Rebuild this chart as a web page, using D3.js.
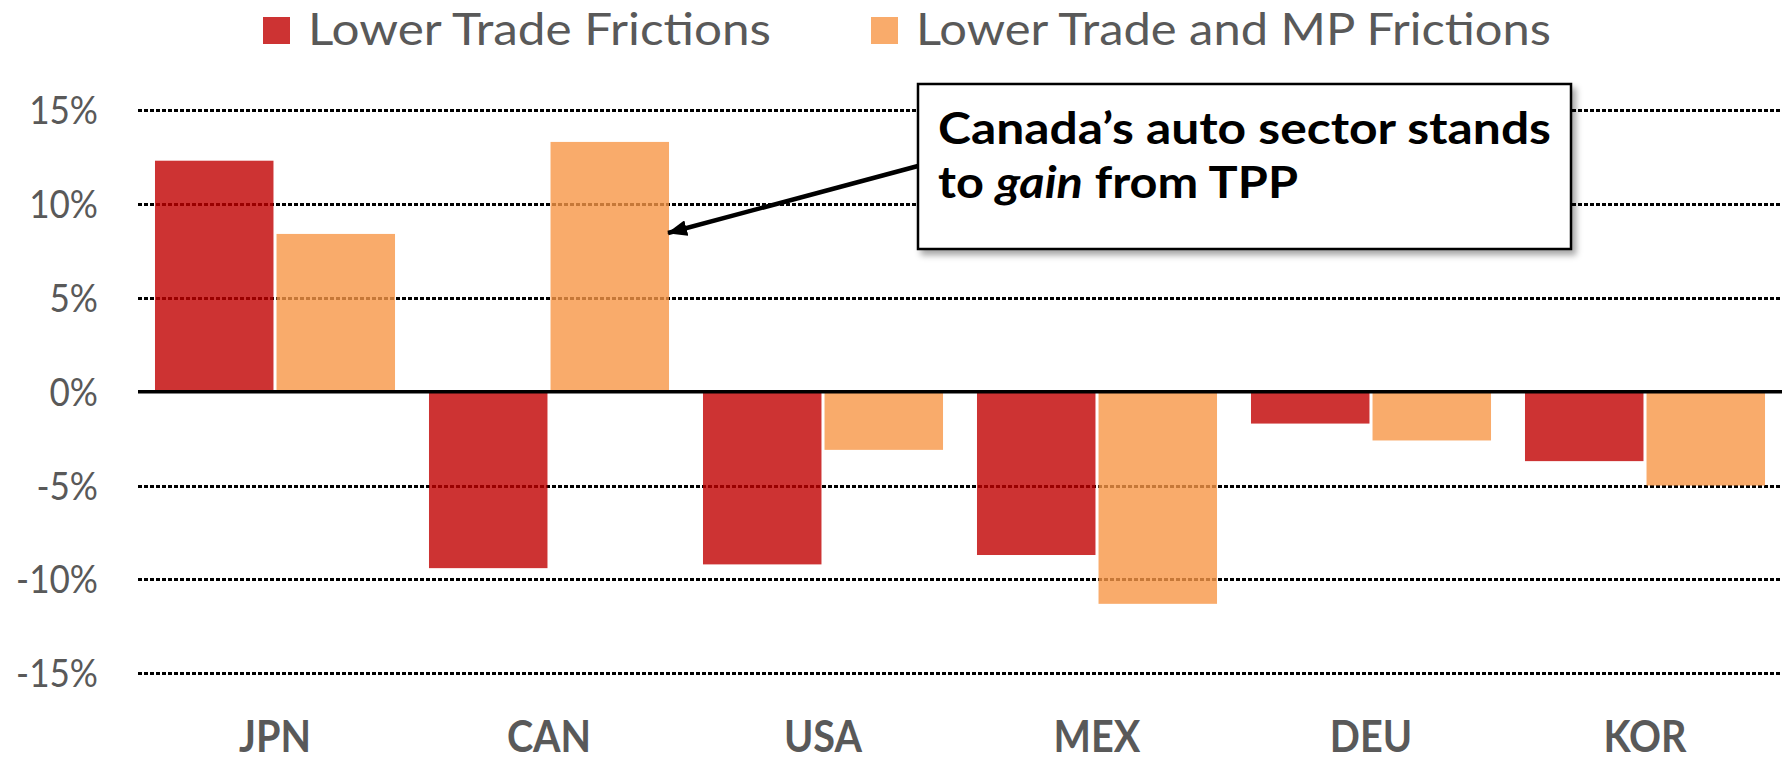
<!DOCTYPE html>
<html>
<head>
<meta charset="utf-8">
<script src="https://cdn.jsdelivr.net/npm/d3@7"></script>
<style>
  body { margin: 0; background: #fff; }
  svg { display: block; font-family: Lato, "Open Sans", sans-serif; }
</style>
</head>
<body>
<div id="chart"></div>
<script>
// data (percent change)
var countries = ["JPN", "CAN", "USA", "MEX", "DEU", "KOR"];
var seriesNames = ["Lower Trade Frictions", "Lower Trade and MP Frictions"];
var tradeOnly = [12.3, -9.4, -9.2, -8.7, -1.7, -3.7];
var tradeAndMP = [8.4, 13.3, -3.1, -11.3, -2.6, -5.0];
var yTicks = [-15, -10, -5, 0, 5, 10, 15];
var noteLine1 = "Canada\u2019s auto sector stands";
var noteLine2 = ["to ", "gain", " from TPP"];

var width = 1785, height = 761;
var colors = ["#C00000", "#F79646"];
var gray = "#595959";

var svg = d3.select("#chart").append("svg")
  .attr("width", width)
  .attr("height", height);

var defs = svg.append("defs");
defs.append("filter").attr("id", "shadow")
  .attr("x", "-10%").attr("y", "-10%").attr("width", "130%").attr("height", "140%")
  .append("feDropShadow")
  .attr("dx", 4).attr("dy", 5).attr("stdDeviation", 3)
  .attr("flood-color", "#000").attr("flood-opacity", 0.35);
defs.append("marker").attr("id", "head")
  .attr("markerUnits", "userSpaceOnUse")
  .attr("viewBox", "0 0 20 16")
  .attr("refX", 19).attr("refY", 8)
  .attr("markerWidth", 20).attr("markerHeight", 16)
  .attr("orient", "auto")
  .append("path").attr("d", "M0,0 L20,8 L0,16 Z").attr("fill", "#000");

// squeeze a text to a given width, Calibri is narrower than what we have
function fitTo(sel, w) {
  sel.attr("textLength", w).attr("lengthAdjust", "spacingAndGlyphs");
}
function narrow(sel, k) {
  sel.each(function() {
    var w = this.getComputedTextLength();
    d3.select(this).attr("textLength", w * k).attr("lengthAdjust", "spacingAndGlyphs");
  });
}

var x = d3.scaleBand()
  .domain(countries)
  .range([138, 1782])
  .paddingInner(0.124)
  .paddingOuter(0.062);

var xs = d3.scaleBand()
  .domain([0, 1])
  .range([0, x.bandwidth()])
  .paddingInner(0.025);

var y = d3.scaleLinear()
  .domain([-15, 15])
  .range([673.3, 110]);

// dotted grid lines
svg.append("g").selectAll("line")
  .data(yTicks.filter(function(d) { return d !== 0; }))
  .enter().append("line")
  .attr("x1", 138).attr("x2", 1782)
  .attr("y1", function(d) { return Math.round(y(d)) + 0.5; })
  .attr("y2", function(d) { return Math.round(y(d)) + 0.5; })
  .attr("stroke", "#000")
  .attr("stroke-width", 3.5)
  .attr("stroke-dasharray", "3.5,2.5")
  .attr("shape-rendering", "crispEdges");

// bars
var rows = countries.map(function(c, i) {
  return { country: c, values: [tradeOnly[i], tradeAndMP[i]] };
});
var groups = svg.append("g").selectAll("g")
  .data(rows)
  .enter().append("g")
  .attr("transform", function(d) { return "translate(" + x(d.country) + ",0)"; });

groups.selectAll("rect")
  .data(function(d) { return d.values.map(function(v, k) { return { k: k, v: v }; }); })
  .enter().append("rect")
  .attr("x", function(d) { return xs(d.k); })
  .attr("width", xs.bandwidth())
  .attr("y", function(d) { return y(Math.max(0, d.v)); })
  .attr("height", function(d) { return Math.abs(y(d.v) - y(0)); })
  .attr("fill", function(d) { return colors[d.k]; })
  .attr("fill-opacity", 0.8);

// zero line
svg.append("line")
  .attr("x1", 138).attr("x2", 1782)
  .attr("y1", y(0)).attr("y2", y(0))
  .attr("stroke", "#000").attr("stroke-width", 3.5);

// y labels
var yl = svg.append("g").selectAll("text")
  .data(yTicks)
  .enter().append("text")
  .attr("x", 98)
  .attr("y", function(d) { return y(d) + 14; })
  .attr("text-anchor", "end")
  .attr("fill", gray)
  .attr("font-size", 39)
  .text(function(d) { return d + "%"; });
narrow(yl, 0.9);

// x labels
var xl = svg.append("g").selectAll("text")
  .data(countries)
  .enter().append("text")
  .attr("x", function(d) { return x(d) + x.bandwidth() / 2; })
  .attr("y", 752)
  .attr("text-anchor", "middle")
  .attr("fill", gray)
  .attr("font-size", 44)
  .attr("font-weight", "bold")
  .text(function(d) { return d; });
narrow(xl, 0.9);

// legend
var legendX = [263, 871];
var legendW = [463, 635];
var lg = svg.append("g").selectAll("g")
  .data(seriesNames)
  .enter().append("g");
lg.append("rect")
  .attr("x", function(d, i) { return legendX[i]; })
  .attr("y", 17).attr("width", 27).attr("height", 27)
  .attr("fill", function(d, i) { return colors[i]; })
  .attr("fill-opacity", 0.8);
lg.append("text")
  .attr("x", function(d, i) { return legendX[i] + 45; })
  .attr("y", 45)
  .attr("fill", gray)
  .attr("font-size", 45)
  .text(function(d) { return d; })
  .each(function(d, i) { fitTo(d3.select(this), legendW[i]); });

// annotation
var note = svg.append("g");
note.append("line")
  .attr("x1", 918).attr("y1", 166)
  .attr("x2", 668).attr("y2", 233)
  .attr("stroke", "#000").attr("stroke-width", 4.5)
  .attr("marker-end", "url(#head)");
note.append("rect")
  .attr("x", 918).attr("y", 84)
  .attr("width", 653).attr("height", 165)
  .attr("fill", "#fff")
  .attr("stroke", "#000").attr("stroke-width", 2.5)
  .attr("filter", "url(#shadow)");
note.append("text")
  .attr("x", 938).attr("y", 144)
  .attr("font-size", 43).attr("font-weight", "bold")
  .text(noteLine1)
  .call(fitTo, 613);
var t2 = note.append("text")
  .attr("x", 938).attr("y", 198)
  .attr("font-size", 43).attr("font-weight", "bold");
t2.selectAll("tspan")
  .data(noteLine2)
  .enter().append("tspan")
  .attr("font-style", function(d, i) { return i === 1 ? "italic" : null; })
  .text(function(d) { return d; });
fitTo(t2, 360);
</script>
</body>
</html>
